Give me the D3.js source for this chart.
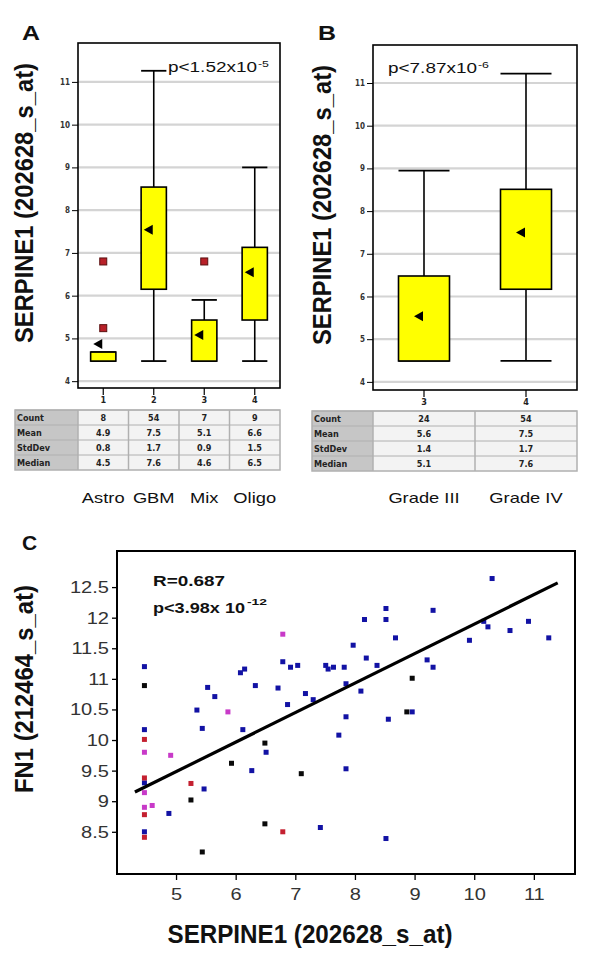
<!DOCTYPE html>
<html><head><meta charset="utf-8">
<script src="https://cdn.jsdelivr.net/npm/d3@7"></script>
<style>
body{margin:0;background:#fff;}
svg{display:block;font-family:"Liberation Sans",Arial,sans-serif;}
</style>
</head><body>
<svg id="c" width="600" height="973"></svg>
<script>
// ---------- DATA ----------
const yTicksAB = [4,5,6,7,8,9,10,11];
const statRows = ["Count","Mean","StdDev","Median"];

// Panel A
const groupsA = ["Astro","GBM","Mix","Oligo"];
const codesA = ["1","2","3","4"];
const lowA  = [4.47, 4.47, 4.47, 4.47];
const q1A   = [4.47, 6.15, 4.47, 5.43];
const q3A   = [4.68, 8.54, 5.43, 7.13];
const highA = [4.68, 11.26, 5.90, 9.00];
const meanA = [4.87, 7.54, 5.08, 6.55];
const outA  = [[6.8, 5.24], [], [6.8], []];
const tableA = [["8","54","7","9"],["4.9","7.5","5.1","6.6"],["0.8","1.7","0.9","1.5"],["4.5","7.6","4.6","6.5"]];
const pA = ["p<1.52x10", "-5"];

// Panel B
const groupsB = ["Grade III","Grade IV"];
const codesB = ["3","4"];
const lowB  = [4.49, 4.49];
const q1B   = [4.49, 6.17];
const q3B   = [6.48, 8.51];
const highB = [8.95, 11.22];
const meanB = [5.54, 7.50];
const outB  = [[], []];
const tableB = [["24","54"],["5.6","7.5"],["1.4","1.7"],["5.1","7.6"]];
const pB = ["p<7.87x10", "-6"];

// Panel C scatter (SERPINE1 x, FN1 y)
const astroX = [4.47,4.47,4.47,4.47,5.25,6.79];
const astroY = [10.01,9.38,8.78,8.41,9.29,8.50];
const mixX = [4.47,4.47,4.47,4.60,4.91,5.87,6.79];
const mixY = [9.80,9.14,8.90,8.93,9.75,10.46,11.73];
const oligoX = [4.47,5.25,5.44,5.93,6.49,6.49,7.10,8.96,8.87];
const oligoY = [10.89,9.02,8.17,9.62,9.95,8.63,9.45,11.01,10.46];
const gbmX = [4.47,4.47,4.47,4.47,4.88,5.47,5.35,5.44,5.53,5.65,6.08,6.15,6.33,6.12,6.51,6.27,
  6.79,6.92,7.04,6.71,6.87,7.42,7.17,7.30,7.51,7.55,7.64,7.82,7.85,7.85,7.73,7.85,7.97,8.16,8.19,8.10,8.37,8.52,8.52,8.68,8.56,8.52,8.96,
  9.31,10.30,9.21,9.31,9.92,10.16,10.23,10.60,10.91,11.25];
const gbmY = [11.20,10.17,9.30,8.50,8.80,9.20,10.49,10.19,10.86,10.71,11.10,11.16,10.89,10.17,9.80,9.50,
  11.28,11.19,11.22,10.85,10.58,8.57,10.76,10.66,11.22,11.16,11.19,11.19,10.92,10.38,10.08,9.53,11.55,11.97,11.34,10.80,11.22,12.15,11.97,11.67,10.34,8.39,10.46,
  12.12,12.64,11.31,11.19,11.63,11.94,11.85,11.79,11.94,11.67];
const regX = [4.31, 11.40];
const regY = [9.15, 12.57];
const xTicksC = [5,6,7,8,9,10,11];
const yTicksC = [8.5,9,9.5,10,10.5,11,11.5,12,12.5];
const statR = "R=0.687";
const statP = ["p<3.98x 10", "-12"];

// ---------- HELPERS ----------
const svg = d3.select("#c");
function stretch(sel, k){
  sel.each(function(){
    const L = this.getComputedTextLength();
    d3.select(this).attr("textLength", L*k).attr("lengthAdjust","spacingAndGlyphs");
  });
}

function boxPanel(cfg){
  const g = svg.append("g");
  const x = d3.scaleBand().domain(cfg.codes).range([cfg.x0, cfg.x1]).paddingInner(0.5).paddingOuter(0.25);
  const y = d3.scaleLinear().domain(cfg.ydom).range([cfg.y1, cfg.y0]);
  const step = x.step(), bw = x.bandwidth();
  const cx = i => x(cfg.codes[i]) + bw/2;

  // grid
  g.selectAll("line.grid").data(yTicksAB).join("line")
    .attr("x1", cfg.x0).attr("x2", cfg.x1)
    .attr("y1", d=>y(d)).attr("y2", d=>y(d))
    .attr("stroke", "#d4d4d4").attr("stroke-width", 2.2);

  // y axis
  const ya = g.append("g").attr("transform", `translate(${cfg.x0},0)`)
    .call(d3.axisLeft(y).tickValues(yTicksAB).tickSize(6).tickPadding(2).tickFormat(d3.format("d")));
  ya.select(".domain").remove();
  ya.selectAll("line").attr("stroke","#000");
  ya.selectAll("text").attr("font-size", 8).attr("font-weight","bold").attr("fill","#333")
    .attr("font-family","'DejaVu Sans Condensed','Liberation Sans',sans-serif");

  // x axis
  const xa = g.append("g").attr("transform", `translate(0,${cfg.y1})`)
    .call(d3.axisBottom(x).tickSize(7).tickPadding(2));
  xa.select(".domain").remove();
  xa.selectAll("line").attr("stroke","#000").attr("stroke-width",1.2);
  xa.selectAll("text").attr("font-size", 9).attr("font-weight","bold").attr("fill","#222")
    .attr("font-family","'DejaVu Sans Condensed','Liberation Sans',sans-serif");

  // whiskers
  const idx = d3.range(cfg.codes.length);
  g.selectAll("line.wu").data(idx).join("line")
    .attr("x1", cx).attr("x2", cx).attr("y1", i=>y(cfg.q3[i])).attr("y2", i=>y(cfg.high[i]))
    .attr("stroke","#000").attr("stroke-width",1.6);
  g.selectAll("line.wl").data(idx).join("line")
    .attr("x1", cx).attr("x2", cx).attr("y1", i=>y(cfg.q1[i])).attr("y2", i=>y(cfg.low[i]))
    .attr("stroke","#000").attr("stroke-width",1.6);
  g.selectAll("line.ch").data(idx).join("line")
    .attr("x1", i=>x(cfg.codes[i])).attr("x2", i=>x(cfg.codes[i])+bw)
    .attr("y1", i=>y(cfg.high[i])).attr("y2", i=>y(cfg.high[i]))
    .attr("stroke","#000").attr("stroke-width",1.8);
  g.selectAll("line.cl").data(idx).join("line")
    .attr("x1", i=>x(cfg.codes[i])).attr("x2", i=>x(cfg.codes[i])+bw)
    .attr("y1", i=>y(cfg.low[i])).attr("y2", i=>y(cfg.low[i]))
    .attr("stroke","#000").attr("stroke-width",1.8);
  // boxes
  g.selectAll("rect.box").data(idx).join("rect")
    .attr("x", i=>x(cfg.codes[i])).attr("width", bw)
    .attr("y", i=>y(cfg.q3[i])).attr("height", i=>y(cfg.q1[i])-y(cfg.q3[i]))
    .attr("fill","#ffff00").attr("stroke","#000").attr("stroke-width",1.6);
  // means
  g.selectAll("path.mean").data(idx).join("path")
    .attr("d", i=>{const c=cx(i), m=y(cfg.mean[i]); return `M${c-10},${m}L${c-1},${m-5}L${c-1},${m+5}Z`;})
    .attr("fill","#000");
  // outliers
  const outs = [];
  cfg.out.forEach((arr,i)=>arr.forEach(v=>outs.push({i, v})));
  g.selectAll("rect.out").data(outs).join("rect")
    .attr("x", d=>cx(d.i)-3.5).attr("y", d=>y(d.v)-3.5).attr("width",7).attr("height",7)
    .attr("fill","#b82028").attr("stroke","#5a1010").attr("stroke-width",1);

  // frame
  g.append("rect").attr("x",cfg.x0).attr("y",cfg.y0).attr("width",cfg.x1-cfg.x0).attr("height",cfg.y1-cfg.y0)
    .attr("fill","none").attr("stroke","#000").attr("stroke-width",1.6);

  // p-value
  const pt = g.append("text").attr("x", cfg.px).attr("y", cfg.py).attr("font-size",14).attr("fill","#111")
    .attr("textLength", 89).attr("lengthAdjust","spacingAndGlyphs").text(cfg.p[0]);
  g.append("text").attr("x", cfg.px+90).attr("y", cfg.py-5).attr("font-size",9).attr("fill","#111")
    .attr("textLength", 11).attr("lengthAdjust","spacingAndGlyphs").text(cfg.p[1]);

  // table
  const rowH = 15;
  const tx0 = cfg.x0, tx1 = cfg.x1;
  const tg = g.append("g");
  tg.append("rect").attr("x", cfg.tl).attr("y", cfg.ty).attr("width", tx0-cfg.tl).attr("height", rowH*4).attr("fill","#c6c6c6");
  tg.append("rect").attr("x", tx0).attr("y", cfg.ty).attr("width", tx1-tx0).attr("height", rowH*4).attr("fill","#f3f3f3");
  statRows.forEach((r,ri)=>{
    tg.append("line").attr("x1",cfg.tl).attr("x2",tx1).attr("y1",cfg.ty+ri*rowH).attr("y2",cfg.ty+ri*rowH)
      .attr("stroke","#b0b0b0").attr("stroke-width",1);
    tg.append("text").attr("x", cfg.tl+2).attr("y", cfg.ty+ri*rowH+11).attr("font-size",9).attr("font-weight","bold")
      .attr("fill","#222").attr("font-family","'DejaVu Sans Condensed','Liberation Sans',sans-serif").text(r);
    cfg.table[ri].forEach((v,ci)=>{
      tg.append("text").attr("x", cx(ci)).attr("y", cfg.ty+ri*rowH+11).attr("text-anchor","middle")
        .attr("font-size",9).attr("font-weight","bold").attr("fill","#222")
        .attr("font-family","'DejaVu Sans Condensed','Liberation Sans',sans-serif").text(v);
    });
  });
  idx.forEach(i=>{
    tg.append("line").attr("x1", cx(i)-step/2).attr("x2", cx(i)-step/2).attr("y1", cfg.ty).attr("y2", cfg.ty+rowH*4)
      .attr("stroke","#b0b0b0").attr("stroke-width",1.5);
  });
  tg.append("rect").attr("x", cfg.tl).attr("y", cfg.ty).attr("width", tx1-cfg.tl).attr("height", rowH*4)
    .attr("fill","none").attr("stroke","#b0b0b0").attr("stroke-width",1.5);

  // category names
  const cn = g.selectAll("text.cat").data(idx).join("text")
    .attr("x", cx).attr("y", 503).attr("text-anchor","middle").attr("font-size",15).attr("fill","#111")
    .text(i=>cfg.names[i]);
  stretch(cn, 1.22);

  // y title
  g.append("text").attr("transform", `translate(${cfg.tx},${cfg.tyc}) rotate(-90)`)
    .attr("text-anchor","middle").attr("font-size",25).attr("font-weight","bold").attr("fill","#111")
    .attr("textLength", 280).attr("lengthAdjust","spacingAndGlyphs").text("SERPINE1 (202628_s_at)");
  // panel letter
  g.append("text").attr("x", cfg.lx).attr("y", 40).attr("font-size",21).attr("font-weight","bold").attr("fill","#111")
    .attr("textLength",18).attr("lengthAdjust","spacingAndGlyphs").text(cfg.letter);
}

boxPanel({letter:"A", lx:22, x0:78, x1:280, y0:43, y1:388, ydom:[3.84,11.91], codes:codesA, names:groupsA,
  low:lowA, q1:q1A, q3:q3A, high:highA, mean:meanA, out:outA, table:tableA, p:pA, px:168, py:72,
  tl:15, ty:410, tx:33, tyc:203});
boxPanel({letter:"B", lx:318, x0:373, x1:577, y0:45, y1:390, ydom:[3.81,11.89], codes:codesB, names:groupsB,
  low:lowB, q1:q1B, q3:q3B, high:highB, mean:meanB, out:outB, table:tableB, p:pB, px:388, py:73,
  tl:312, ty:411, tx:331, tyc:205});

// ---------- PANEL C ----------
const gc = svg.append("g");
const xC = d3.scaleLinear().domain([4.01, 11.69]).range([117, 575]);
const yC = d3.scaleLinear().domain([7.81, 13.09]).range([874, 551]);

const yaC = gc.append("g").attr("transform","translate(117,0)")
  .call(d3.axisLeft(yC).tickValues(yTicksC).tickSize(5).tickPadding(3).tickFormat(d=>String(d)));
yaC.select(".domain").remove();
yaC.selectAll("line").attr("stroke","#000").attr("stroke-width",1.3);
yaC.selectAll("text").attr("font-size",17).attr("fill","#333").attr("font-family","'Liberation Sans',Arial,sans-serif");
stretch(yaC.selectAll("text"), 1.18);

const xaC = gc.append("g").attr("transform","translate(0,874)")
  .call(d3.axisBottom(xC).tickValues(xTicksC).tickSize(6).tickPadding(8).tickFormat(d3.format("d")));
xaC.select(".domain").remove();
xaC.selectAll("line").attr("stroke","#000").attr("stroke-width",1.3);
xaC.selectAll("text").attr("font-size",17).attr("fill","#333").attr("font-family","'Liberation Sans',Arial,sans-serif");
stretch(xaC.selectAll("text"), 1.18);

// points
function pts(xs, ys, color){
  gc.append("g").selectAll("rect").data(xs.map((v,i)=>[v, ys[i]])).join("rect")
    .attr("x", d=>xC(d[0])-2.5).attr("y", d=>yC(d[1])-2.5).attr("width",5).attr("height",5).attr("fill",color);
}
pts(gbmX, gbmY, "#1212a4");
pts(oligoX, oligoY, "#0a0a0a");
pts(astroX, astroY, "#c42030");
pts(mixX, mixY, "#c83ac8");

// regression line
gc.append("path").datum(regX.map((v,i)=>[v, regY[i]]))
  .attr("d", d3.line().x(d=>xC(d[0])).y(d=>yC(d[1])))
  .attr("stroke","#000").attr("stroke-width",3.2).attr("fill","none");

// frame
gc.append("rect").attr("x",117).attr("y",551).attr("width",458).attr("height",323)
  .attr("fill","none").attr("stroke","#000").attr("stroke-width",2);

// stats
gc.append("text").attr("x",153).attr("y",586).attr("font-size",15.5).attr("font-weight","bold").attr("fill","#111")
  .attr("textLength",72).attr("lengthAdjust","spacingAndGlyphs").text(statR);
gc.append("text").attr("x",153).attr("y",613).attr("font-size",15.5).attr("font-weight","bold").attr("fill","#111")
  .attr("textLength",92).attr("lengthAdjust","spacingAndGlyphs").text(statP[0]);
gc.append("text").attr("x",247).attr("y",605).attr("font-size",9.5).attr("font-weight","bold").attr("fill","#111")
  .attr("textLength",20).attr("lengthAdjust","spacingAndGlyphs").text(statP[1]);

// titles
gc.append("text").attr("transform","translate(33,689) rotate(-90)").attr("text-anchor","middle")
  .attr("font-size",25).attr("font-weight","bold").attr("fill","#111")
  .attr("textLength",208).attr("lengthAdjust","spacingAndGlyphs").text("FN1 (212464_s_at)");
gc.append("text").attr("x",310).attr("y",943).attr("text-anchor","middle")
  .attr("font-size",25).attr("font-weight","bold").attr("fill","#111")
  .attr("textLength",285).attr("lengthAdjust","spacingAndGlyphs").text("SERPINE1 (202628_s_at)");
gc.append("text").attr("x",22).attr("y",550).attr("font-size",21).attr("font-weight","bold").attr("fill","#111").text("C");
</script>
</body></html>
